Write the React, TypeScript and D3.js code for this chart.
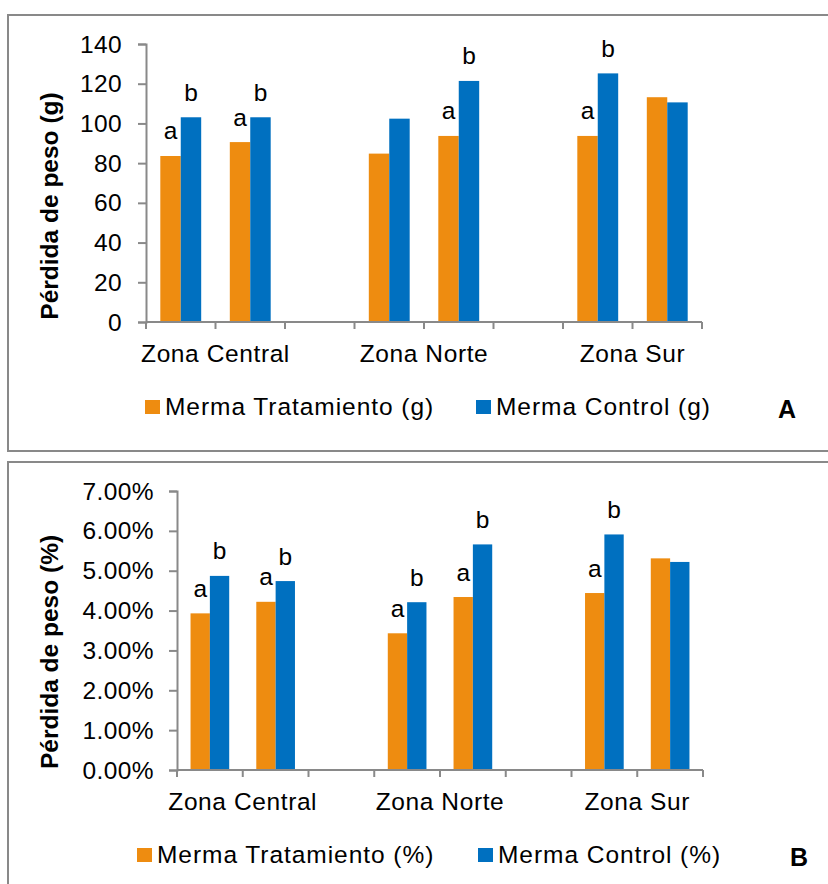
import React, { useEffect, useRef } from 'react';
import * as d3 from 'd3';

// 8 category slots (Excel style): two per zone with an empty slot between zones
const slots = ["c1", "c2", "gap1", "n1", "n2", "gap2", "s1", "s2"];
const zones = ["Zona Central", "Zona Norte", "Zona Sur"];
const zoneSlots = [["c1", "c2"], ["n1", "n2"], ["s1", "s2"]];

const tratamientoG = [83.6, 90.6, null, 84.8, 93.7, null, 93.7, 113.2];
const controlG = [103.1, 103.1, null, 102.4, 121.4, null, 125.2, 110.6];
const letrasTratG = ["a", "a", "", "", "a", "", "a", ""];
const letrasCtrlG = ["b", "b", "", "", "b", "", "b", ""];

const tratamientoPct = [3.93, 4.22, null, 3.43, 4.34, null, 4.44, 5.31];
const controlPct = [4.87, 4.74, null, 4.21, 5.66, null, 5.91, 5.22];
const letrasTratPct = ["a", "a", "", "a", "a", "", "a", ""];
const letrasCtrlPct = ["b", "b", "", "b", "b", "", "b", ""];

const ticksG = [0, 20, 40, 60, 80, 100, 120, 140];
const ticksPct = [0, 1, 2, 3, 4, 5, 6, 7];

const ORANGE = "#EE8C10";
const BLUE = "#0070C0";
const GREY = "#898989";
const FONT = "'Liberation Sans', Arial, sans-serif";

const App = () => {
    const ref = useRef(null);

    useEffect(() => {
        const svg = d3.select(ref.current);
        svg.selectAll("*").remove();

        const panels = [
            {
                box: [8, 15, 436], left: 146, right: 702, top: 44, bottom: 322,
                max: 140, ticks: ticksG, fmt: d => String(d),
                trat: tratamientoG, ctrl: controlG, lt: letrasTratG, lc: letrasCtrlG,
                title: "Pérdida de peso (g)", titleY: 206, tickX: 122,
                legendY: 415, legend: ["Merma Tratamiento (g)", "Merma Control (g)"],
                legendX: [145, 476], letter: "A", letterX: 787, labelY: 362
            },
            {
                box: [8, 462, 440], left: 177, right: 703, top: 491, bottom: 770,
                max: 7, ticks: ticksPct, fmt: d => d.toFixed(2) + "%",
                trat: tratamientoPct, ctrl: controlPct, lt: letrasTratPct, lc: letrasCtrlPct,
                title: "Pérdida de peso (%)", titleY: 652, tickX: 154,
                legendY: 863, legend: ["Merma Tratamiento (%)", "Merma Control (%)"],
                legendX: [137, 478], letter: "B", letterX: 799, labelY: 810
            }
        ];

        panels.forEach(p => {
            // panel frame (right side runs off the image)
            svg.append("rect")
                .attr("x", p.box[0]).attr("y", p.box[1])
                .attr("width", 900).attr("height", p.box[2])
                .attr("fill", "none").attr("stroke", GREY).attr("stroke-width", 2);

            const x = d3.scaleBand().domain(slots).range([p.left, p.right]);
            const inner = d3.scaleBand().domain(["t", "c"]).range([0, x.bandwidth()]).paddingOuter(0.7);
            const y = d3.scaleLinear().domain([0, p.max]).range([p.bottom, p.top]);

            const g = svg.append("g");

            // y axis
            const yAxis = g.append("g")
                .attr("transform", `translate(${p.left},0)`)
                .call(d3.axisLeft(y).tickValues(p.ticks).tickFormat(p.fmt).tickSize(8).tickPadding(0));
            yAxis.selectAll("text").remove();
            g.selectAll(".ylab").data(p.ticks).enter().append("text")
                .attr("x", p.tickX).attr("y", d => y(d) + 8.5)
                .attr("text-anchor", "end")
                .attr("font-size", 24.5).attr("letter-spacing", 0.4)
                .attr("font-family", FONT).attr("fill", "#000")
                .text(p.fmt);

            // x axis with ticks at slot boundaries
            const xAxis = g.append("g").attr("transform", `translate(0,${p.bottom})`);
            xAxis.append("line").attr("x1", p.left).attr("x2", p.right).attr("stroke", GREY).attr("stroke-width", 2);
            const bounds = slots.map(s => x(s)).concat([p.right]);
            xAxis.selectAll(".xt").data(bounds).enter().append("line")
                .attr("x1", d => d).attr("x2", d => d).attr("y1", 0).attr("y2", 7)
                .attr("stroke", GREY).attr("stroke-width", 2);

            yAxis.selectAll(".domain, .tick line").attr("stroke", GREY).attr("stroke-width", 2);

            // bars
            const series = [
                { key: "t", vals: p.trat, labels: p.lt, color: ORANGE },
                { key: "c", vals: p.ctrl, labels: p.lc, color: BLUE }
            ];
            series.forEach(s => {
                const data = slots.map((slot, i) => ({ slot, v: s.vals[i], lab: s.labels[i] })).filter(d => d.v != null);
                g.selectAll(null).data(data).enter().append("rect")
                    .attr("x", d => x(d.slot) + inner(s.key))
                    .attr("y", d => y(d.v))
                    .attr("width", inner.bandwidth())
                    .attr("height", d => p.bottom - 1 - y(d.v))
                    .attr("fill", s.color);
                g.selectAll(null).data(data.filter(d => d.lab)).enter().append("text")
                    .attr("x", d => x(d.slot) + inner(s.key) + inner.bandwidth() / 2)
                    .attr("y", d => y(d.v) - 16.5)
                    .attr("text-anchor", "middle")
                    .attr("font-size", 24.5).attr("font-family", FONT)
                    .text(d => d.lab);
            });

            // zone labels centred under their two slots
            g.selectAll(null).data(zones).enter().append("text")
                .attr("x", (d, i) => (x(zoneSlots[i][0]) + x(zoneSlots[i][1]) + x.bandwidth()) / 2)
                .attr("y", p.labelY)
                .attr("text-anchor", "middle")
                .attr("font-size", 24.5).attr("letter-spacing", 0.6).attr("font-family", FONT)
                .text(d => d);

            // y title
            g.append("text")
                .attr("transform", `translate(58,${p.titleY}) rotate(-90)`)
                .attr("text-anchor", "middle")
                .attr("font-size", 24.5).attr("font-weight", "bold").attr("font-family", FONT)
                .text(p.title);

            // legend
            [ORANGE, BLUE].forEach((c, i) => {
                g.append("rect")
                    .attr("x", p.legendX[i]).attr("y", p.legendY - 15)
                    .attr("width", 15).attr("height", 14).attr("fill", c);
                g.append("text")
                    .attr("x", p.legendX[i] + 20).attr("y", p.legendY)
                    .attr("font-size", 24.5).attr("letter-spacing", 0.95).attr("font-family", FONT)
                    .text(p.legend[i]);
            });

            g.append("text")
                .attr("x", p.letterX).attr("y", p.legendY + 3)
                .attr("text-anchor", "middle")
                .attr("font-size", 25).attr("font-weight", "bold").attr("font-family", FONT)
                .text(p.letter);
        });
    }, []);

    return (
        <svg ref={ref} width={828} height={884}
            style={{ position: "absolute", left: 0, top: 0, background: "#fff" }} />
    );
};

export default App;
